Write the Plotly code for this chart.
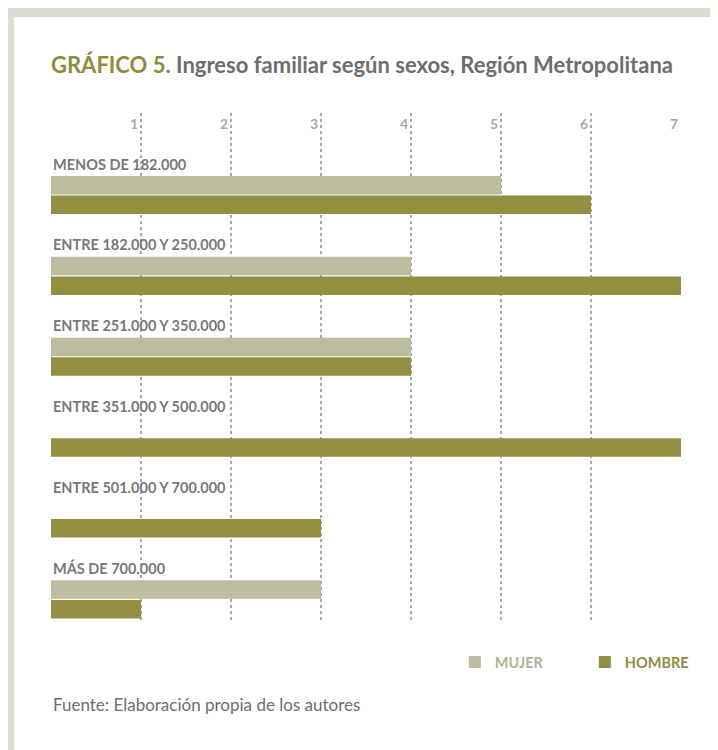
import plotly.graph_objects as go

# data
categorias = ["MENOS DE 182.000", "ENTRE 182.000 Y 250.000", "ENTRE 251.000 Y 350.000",
              "ENTRE 351.000 Y 500.000", "ENTRE 501.000 Y 700.000", "MÁS DE 700.000"]
mujer = [5, 4, 4, 0, 0, 3]
hombre = [6, 7, 4, 7, 3, 1]
ticks = [1, 2, 3, 4, 5, 6, 7]
tick_labels = ["1", "2", "3", "4", "5", "6", "7"]

COLOR_MUJER = "#bcbc9e"
COLOR_HOMBRE = "#938f42"
FONT = "Lato, Roboto, sans-serif"

# the page body adds an 8px offset, so the figure is 8px smaller
W, H = 710, 742

fig = go.Figure()
fig.add_trace(go.Bar(
    y=categorias, x=mujer, orientation="h", marker_color=COLOR_MUJER,
    marker_line_width=0,
    name="<span style='color:#b3b18f'><b>MUJER</b></span>",
))
fig.add_trace(go.Bar(
    y=categorias, x=hombre, orientation="h", marker_color=COLOR_HOMBRE,
    marker_line_width=0,
    name="<span style='color:#8f8b3f'><b>HOMBRE</b></span>",
))

# category labels above each group of bars
for cat in categorias:
    fig.add_annotation(
        x=0, y=cat, xref="x", yref="y", text="<b>%s</b>" % cat,
        showarrow=False, xanchor="left", yanchor="middle", xshift=0, yshift=31,
        font=dict(family=FONT, size=14.5, color="#77787b"),
    )

# source
fig.add_annotation(
    x=0, y=-0.163, xref="paper", yref="paper",
    text="Fuente: Elaboración propia de los autores",
    showarrow=False, xanchor="left", yanchor="middle",
    font=dict(family=FONT, size=17, color="#6d6e71"),
)

# grey frame strips (left and top), at the figure edges
fig.add_shape(type="rect", xref="paper", yref="paper", x0=-0.2, x1=(6 - 43) / 630,
              y0=-0.4, y1=1.4, fillcolor="#dcdcd0", line_width=0, layer="below")
fig.add_shape(type="rect", xref="paper", yref="paper", x0=-0.2, x1=1.2,
              y0=(614 - 9) / 509, y1=1.4, fillcolor="#dcdcd0", line_width=0, layer="below")

fig.update_layout(
    width=W, height=H,
    margin=dict(l=43, r=37, t=105, b=128, autoexpand=False),
    paper_bgcolor="white", plot_bgcolor="white",
    barmode="group", bargap=0.513, bargroupgap=0.06,
    title=dict(
        text="<b><span style='color:#8f8b3f'>GRÁFICO 5.</span> Ingreso familiar según sexos, Región Metropolitana</b>",
        x=0, xref="paper", xanchor="left", y=1 - 57 / H, yanchor="middle",
        font=dict(family=FONT, size=22, color="#6d6e71"),
    ),
    xaxis=dict(
        range=[0, 7], side="top", tickvals=ticks, ticktext=tick_labels,
        ticklabelposition="inside left", ticklabelstandoff=0, ticklabelshift=-3,
        showgrid=True, gridcolor="#a7a9ac", griddash="dot", gridwidth=2,
        zeroline=False, showline=False, ticks="",
        tickfont=dict(family=FONT, size=14, color="#a7a9ac", weight="bold"),
    ),
    yaxis=dict(
        range=[5.28, -1.014], showticklabels=False, showgrid=False,
        zeroline=False, showline=False, ticks="",
    ),
    legend=dict(
        orientation="h", x=0.641, y=-0.0786, xanchor="left", yanchor="middle",
        entrywidth=85, entrywidthmode="pixels",
        font=dict(family=FONT, size=14.5),
        bgcolor="rgba(0,0,0,0)",
    ),
)

fig.write_html("out.html")
